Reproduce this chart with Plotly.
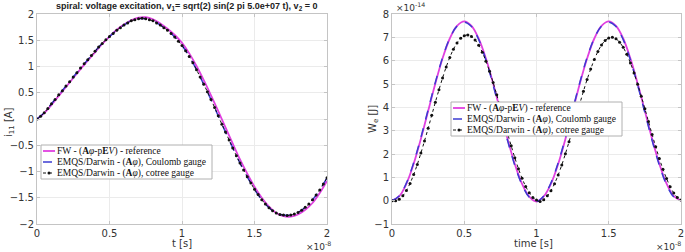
import plotly.graph_objects as go
from plotly.subplots import make_subplots

# ---------------- data (time in units of 1e-8 s) ----------------
t_coarse = [round(0.05 * k, 3) for k in range(41)]
t_fine = [round(0.025 * k, 4) for k in range(81)]

# left: current i_11 [A]
i_ref = [0.00, 0.11, 0.27, 0.44, 0.61, 0.78, 0.95, 1.11, 1.27, 1.43, 1.57, 1.70, 1.80, 1.88, 1.93, 1.94,
         1.90, 1.82, 1.72, 1.60, 1.45, 1.25, 1.01, 0.74, 0.45, 0.15, -0.16, -0.47, -0.77, -1.04, -1.29,
         -1.50, -1.67, -1.79, -1.85, -1.86, -1.82, -1.73, -1.60, -1.41, -1.18]
i_coulomb = [0.00, 0.12, 0.29, 0.46, 0.63, 0.80, 0.97, 1.13, 1.29, 1.44, 1.57, 1.69, 1.79, 1.87, 1.91, 1.91,
             1.87, 1.79, 1.69, 1.56, 1.40, 1.19, 0.94, 0.66, 0.37, 0.06, -0.25, -0.55, -0.84, -1.10, -1.34,
             -1.54, -1.69, -1.79, -1.83, -1.83, -1.78, -1.68, -1.54, -1.35, -1.12]
i_cotree = [0.00, 0.05, 0.12, 0.20, 0.29, 0.37, 0.46, 0.54, 0.63, 0.71, 0.80, 0.88, 0.97, 1.05, 1.13, 1.21,
            1.29, 1.37, 1.44, 1.51, 1.57, 1.63, 1.69, 1.74, 1.79, 1.83, 1.87, 1.89, 1.91, 1.92, 1.91, 1.89,
            1.87, 1.83, 1.79, 1.74, 1.69, 1.63, 1.56, 1.48, 1.40, 1.30, 1.19, 1.07, 0.94, 0.80, 0.66, 0.52,
            0.37, 0.22, 0.06, -0.10, -0.25, -0.40, -0.55, -0.70, -0.84, -0.97, -1.10, -1.22, -1.34, -1.44,
            -1.54, -1.62, -1.69, -1.75, -1.79, -1.82, -1.83, -1.84, -1.83, -1.81, -1.78, -1.74, -1.68, -1.62,
            -1.54, -1.45, -1.35, -1.24, -1.12]

# right: electric energy W_e [1e-14 J]
we_ref = [0.00, 0.19, 0.73, 1.58, 2.65, 3.84, 5.02, 6.10, 6.95, 7.49, 7.68, 7.49, 6.94, 6.09, 5.02, 3.83,
          2.64, 1.57, 0.72, 0.17, -0.04, 0.18, 0.72, 1.57, 2.64, 3.83, 5.02, 6.09, 6.95, 7.49, 7.68, 7.49,
          6.95, 6.09, 5.02, 3.84, 2.65, 1.58, 0.73, 0.19, 0.00]
we_coulomb = [0.00, 0.20, 0.76, 1.63, 2.71, 3.90, 5.07, 6.13, 6.96, 7.48, 7.65, 7.46, 6.90, 6.03, 4.95, 3.76,
              2.57, 1.51, 0.68, 0.15, -0.04, 0.20, 0.76, 1.62, 2.70, 3.89, 5.07, 6.13, 6.96, 7.48, 7.65,
              7.46, 6.90, 6.03, 4.95, 3.77, 2.58, 1.52, 0.68, 0.16, 0.00]
we_cotree = [0.00, 0.00, 0.06, 0.21, 0.44, 0.74, 1.12, 1.55, 2.04, 2.56, 3.10, 3.66, 4.22, 4.75, 5.26, 5.73,
             6.14, 6.49, 6.76, 6.96, 7.07, 7.10, 7.04, 6.89, 6.66, 6.36, 5.98, 5.55, 5.06, 4.54, 4.00, 3.44,
             2.88, 2.35, 1.84, 1.37, 0.96, 0.61, 0.34, 0.14, 0.03, -0.04, 0.04, 0.21, 0.43, 0.73, 1.10, 1.53,
             2.01, 2.52, 3.06, 3.61, 4.16, 4.69, 5.19, 5.64, 6.05, 6.39, 6.67, 6.86, 6.97, 7.00, 6.94, 6.79,
             6.57, 6.27, 5.90, 5.47, 4.99, 4.48, 3.94, 3.39, 2.84, 2.31, 1.81, 1.35, 0.95, 0.60, 0.33, 0.14,
             0.03]

x_ticks = [0, 0.5, 1, 1.5, 2]
x_tick_text = ["0", "0.5", "1", "1.5", "2"]
i_ticks = [-2, -1.5, -1, -0.5, 0, 0.5, 1, 1.5, 2]
we_ticks = [-1, 0, 1, 2, 3, 4, 5, 6, 7, 8]

legend_labels = [
    "FW - (<b>A</b><i>φ</i>-p<b>E</b><i>V</i>) - reference",
    "EMQS/Darwin - (<b>A</b><i>φ</i>), Coulomb gauge",
    "EMQS/Darwin - (<b>A</b><i>φ</i>), cotree gauge",
]

# ---------------- styling ----------------
W, H = 685, 252
PINK = "#e040e0"
BLUE = "#3b3bd0"
BLACK = "#111111"
AXC = "#c4c4c4"
TXT = "#333333"
SANS = "DejaVu Sans"
SERIF = "Liberation Serif"


def px(x):
    return x / W


def py(y):
    return 1 - y / H


fig = make_subplots(rows=1, cols=2)

for col, (tc, tf, ref, cou, cot) in enumerate(
        [(t_coarse, t_fine, i_ref, i_coulomb, i_cotree),
         (t_coarse, t_fine, we_ref, we_coulomb, we_cotree)], start=1):
    fig.add_trace(go.Scatter(x=tc, y=ref, mode="lines", line=dict(color=PINK, width=1.8, shape="spline"),
                             showlegend=False, hoverinfo="skip"), row=1, col=col)
    fig.add_trace(go.Scatter(x=tc, y=cou, mode="lines",
                             line=dict(color=BLUE, width=1.5, dash="dash", shape="spline"),
                             showlegend=False, hoverinfo="skip"), row=1, col=col)
    fig.add_trace(go.Scatter(x=tf, y=cot, mode="lines+markers",
                             line=dict(color=BLACK, width=1, dash="dot", shape="spline"),
                             marker=dict(color=BLACK, size=3), showlegend=False, hoverinfo="skip"),
                  row=1, col=col)

axis_common = dict(showline=True, linecolor=AXC, linewidth=1, mirror="ticks", ticks="inside",
                   ticklen=3, tickcolor=AXC, showgrid=True, gridcolor="#ebebeb", gridwidth=1,
                   zeroline=False, automargin=False, tickfont=dict(family=SANS, size=10, color=TXT))

fig.update_layout(
    xaxis=dict(domain=[px(37), px(327)], range=[0, 2], tickvals=x_ticks, ticktext=x_tick_text, **axis_common),
    yaxis=dict(domain=[py(224), py(14)], range=[-2, 2], tickvals=i_ticks, **axis_common),
    xaxis2=dict(domain=[px(392), px(681)], range=[0, 2], tickvals=x_ticks, ticktext=x_tick_text, **axis_common),
    yaxis2=dict(domain=[py(224), py(14)], range=[-1, 8], tickvals=we_ticks, **axis_common),
    width=W, height=H, margin=dict(l=0, r=0, t=0, b=0, autoexpand=False),
    paper_bgcolor="white", plot_bgcolor="white", showlegend=False, hovermode=False,
)

ann = []
ann.append(dict(text="<b>spiral: voltage excitation, v<sub>1</sub>= sqrt(2) sin(2 pi 5.0e+07 t), v<sub>2</sub> = 0</b>",
                x=px(186), y=py(6), xanchor="center", yanchor="middle",
                font=dict(family="Liberation Sans", size=9, color="#222")))
ann.append(dict(text="t [s]", x=px(182), y=py(243), xanchor="center", yanchor="middle",
                font=dict(family=SANS, size=10, color=TXT)))
ann.append(dict(text="time [s]", x=px(533), y=py(243), xanchor="center", yanchor="middle",
                font=dict(family=SANS, size=10, color=TXT)))
for xx in (318, 668):
    ann.append(dict(text="×10<sup>-8</sup>", x=px(xx), y=py(246), xanchor="center", yanchor="middle",
                    font=dict(family=SANS, size=9, color=TXT)))
ann.append(dict(text="×10<sup>-14</sup>", x=px(394), y=py(7), xanchor="left", yanchor="middle",
                font=dict(family=SANS, size=9, color=TXT)))
ann.append(dict(text="i<sub>11</sub> [A]", x=px(9), y=py(122), xanchor="center", yanchor="middle",
                textangle=-90, font=dict(family=SANS, size=10, color=TXT)))
ann.append(dict(text="W<sub>e</sub> [J]", x=px(373), y=py(119), xanchor="center", yanchor="middle",
                textangle=-90, font=dict(family=SANS, size=10, color=TXT)))

shapes = []


def add_legend(x0, y0, w, rows):
    shapes.append(dict(type="rect", xref="paper", yref="paper", x0=px(x0), x1=px(x0 + w),
                       y0=py(y0), y1=py(y0 + 34), line=dict(color="#b0b0b0", width=1),
                       fillcolor="white", layer="above"))
    for k, lab in enumerate(rows):
        yy = y0 + 6 + 11 * k
        if k == 0:
            shapes.append(dict(type="line", xref="paper", yref="paper", x0=px(x0 + 2), x1=px(x0 + 14),
                               y0=py(yy), y1=py(yy), line=dict(color=PINK, width=1.8), layer="above"))
        elif k == 1:
            shapes.append(dict(type="line", xref="paper", yref="paper", x0=px(x0 + 2), x1=px(x0 + 14),
                               y0=py(yy), y1=py(yy), line=dict(color=BLUE, width=1.5, dash="dash"),
                               layer="above"))
        else:
            shapes.append(dict(type="line", xref="paper", yref="paper", x0=px(x0 + 2), x1=px(x0 + 14),
                               y0=py(yy), y1=py(yy), line=dict(color=BLACK, width=1, dash="dot"),
                               layer="above"))
            shapes.append(dict(type="circle", xref="paper", yref="paper", x0=px(x0 + 6.5), x1=px(x0 + 9.5),
                               y0=py(yy - 1.5), y1=py(yy + 1.5), fillcolor=BLACK,
                               line=dict(color=BLACK, width=0), layer="above"))
        ann.append(dict(text=lab, x=px(x0 + 14), y=py(yy), xanchor="left", yanchor="middle",
                        showarrow=False, font=dict(family=SERIF, size=9.5, color="#111")))


add_legend(41, 145, 171, legend_labels)
add_legend(451, 102, 171, legend_labels)

for a in ann:
    a.setdefault("showarrow", False)
    a["xref"] = "paper"
    a["yref"] = "paper"
fig.update_layout(annotations=ann, shapes=shapes)

fig.write_html("out.html", config={"displayModeBar": False, "staticPlot": True},
               post_script="document.body.style.margin='0';document.body.style.padding='0';"
                           "document.body.style.overflow='hidden';")
